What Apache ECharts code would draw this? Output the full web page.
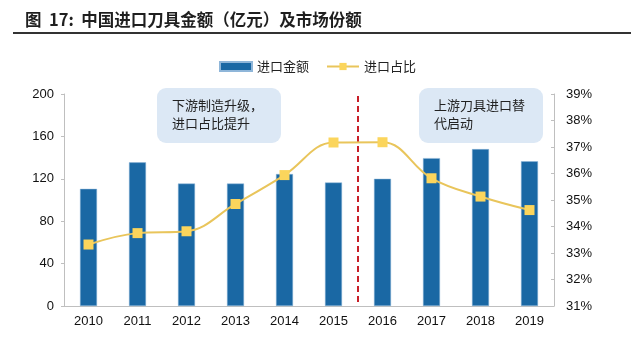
<!DOCTYPE html>
<html>
<head>
<meta charset="utf-8">
<script src="https://cdn.jsdelivr.net/npm/echarts@6/dist/echarts.min.js"></script>
<style>
  html, body { margin: 0; padding: 0; background: #fff; }
  #conMain { width: 641px; height: 350px; }
</style>
</head>
<body>
<div id="conMain"></div>
<script>
// 数据
var years = ['2010', '2011', '2012', '2013', '2014', '2015', '2016', '2017', '2018', '2019'];
var importValue = [110.5, 135.5, 115.5, 115.5, 124.5, 116.5, 120, 139.5, 148, 136.5];   // 进口金额（亿元）
var importShare = [33.32, 33.75, 33.82, 34.85, 35.94, 37.17, 37.18, 35.82, 35.13, 34.62]; // 进口占比 %
var leftTicks = [0, 200, 40];
var rightTicks = [31, 39, 1];

var cjk = '"Noto Sans CJK SC", sans-serif';
var latin = '"Liberation Sans", Arial, sans-serif';

var myChart = echarts.init(document.getElementById('conMain'));

var option = {
    animation: false,
    backgroundColor: '#fff',
    title: {
        text: '图  17:  中国进口刀具金额（亿元）及市场份额',
        left: 20,
        top: 6,
        textStyle: { fontFamily: cjk, fontSize: 16.5, fontWeight: 'bold', color: '#1f1f1f' }
    },
    legend: {
        top: 55,
        left: 214,
        itemWidth: 32,
        itemHeight: 9,
        itemGap: 17,
        textStyle: { fontFamily: cjk, fontSize: 13, color: '#222' },
        data: [
            { name: '进口金额', icon: 'rect' },
            { name: '进口占比' }
        ]
    },
    grid: { left: 64, right: 87, top: 94, bottom: 44 },
    xAxis: {
        type: 'category',
        data: years,
        axisLine: { lineStyle: { color: '#bfbfbf', width: 1 } },
        axisTick: { show: false },
        axisLabel: { fontFamily: latin, fontSize: 13, color: '#111', margin: 9 }
    },
    yAxis: [
        {
            type: 'value',
            min: leftTicks[0],
            max: leftTicks[1],
            interval: leftTicks[2],
            splitLine: { show: false },
            axisLine: { show: true, lineStyle: { color: '#bfbfbf' } },
            axisTick: { show: true, length: 3, lineStyle: { color: '#bfbfbf' } },
            axisLabel: { fontFamily: latin, fontSize: 13, color: '#111', margin: 10 }
        },
        {
            type: 'value',
            min: rightTicks[0],
            max: rightTicks[1],
            interval: rightTicks[2],
            splitLine: { show: false },
            axisLine: { show: true, lineStyle: { color: '#bfbfbf' } },
            axisTick: { show: true, inside: true, length: 3, lineStyle: { color: '#bfbfbf' } },
            axisLabel: { fontFamily: latin, fontSize: 13, color: '#111', margin: 12, formatter: '{value}%' }
        }
    ],
    series: [
        {
            name: '进口金额',
            type: 'bar',
            barWidth: 17,
            itemStyle: { color: '#1a68a4', borderColor: '#8fb6d9', borderWidth: 0.5 },
            data: importValue
        },
        {
            name: '进口占比',
            type: 'line',
            yAxisIndex: 1,
            smooth: 0.4,
            symbol: 'rect',
            symbolSize: 10,
            lineStyle: { color: '#e9c55b', width: 2 },
            itemStyle: { color: '#fbd55c' },
            data: importShare
        }
    ]
};
myChart.setOption(option);

// 分隔虚线与注释框
var x5 = myChart.convertToPixel({ xAxisIndex: 0 }, years[5]);
var x6 = myChart.convertToPixel({ xAxisIndex: 0 }, years[6]);
var splitX = (x5 + x6) / 2;
var yTop = myChart.convertToPixel({ yAxisIndex: 0 }, leftTicks[1]) + 2;
var yBot = myChart.convertToPixel({ yAxisIndex: 0 }, leftTicks[0]);

function note(x, y, w, h, text) {
    return {
        type: 'group',
        children: [
            { type: 'rect', shape: { x: x, y: y, width: w, height: h, r: 9 }, style: { fill: '#dce8f5' } },
            { type: 'text', x: x + 15, y: y + 8, style: { text: text, fontFamily: cjk, fontSize: 13, lineHeight: 18, fill: '#222' } }
        ]
    };
}

myChart.setOption({
    graphic: [
        { type: 'rect', shape: { x: 13, y: 32, width: 618, height: 2 }, style: { fill: '#333' } },
        {
            type: 'line',
            shape: { x1: splitX, y1: yTop, x2: splitX, y2: yBot },
            style: { stroke: '#c81e28', lineWidth: 2, lineDash: [6, 4] }
        },
        note(157, 88, 124, 55, '下游制造升级，\n进口占比提升'),
        note(419, 88, 124, 55, '上游刀具进口替\n代启动')
    ]
});
</script>
</body>
</html>
